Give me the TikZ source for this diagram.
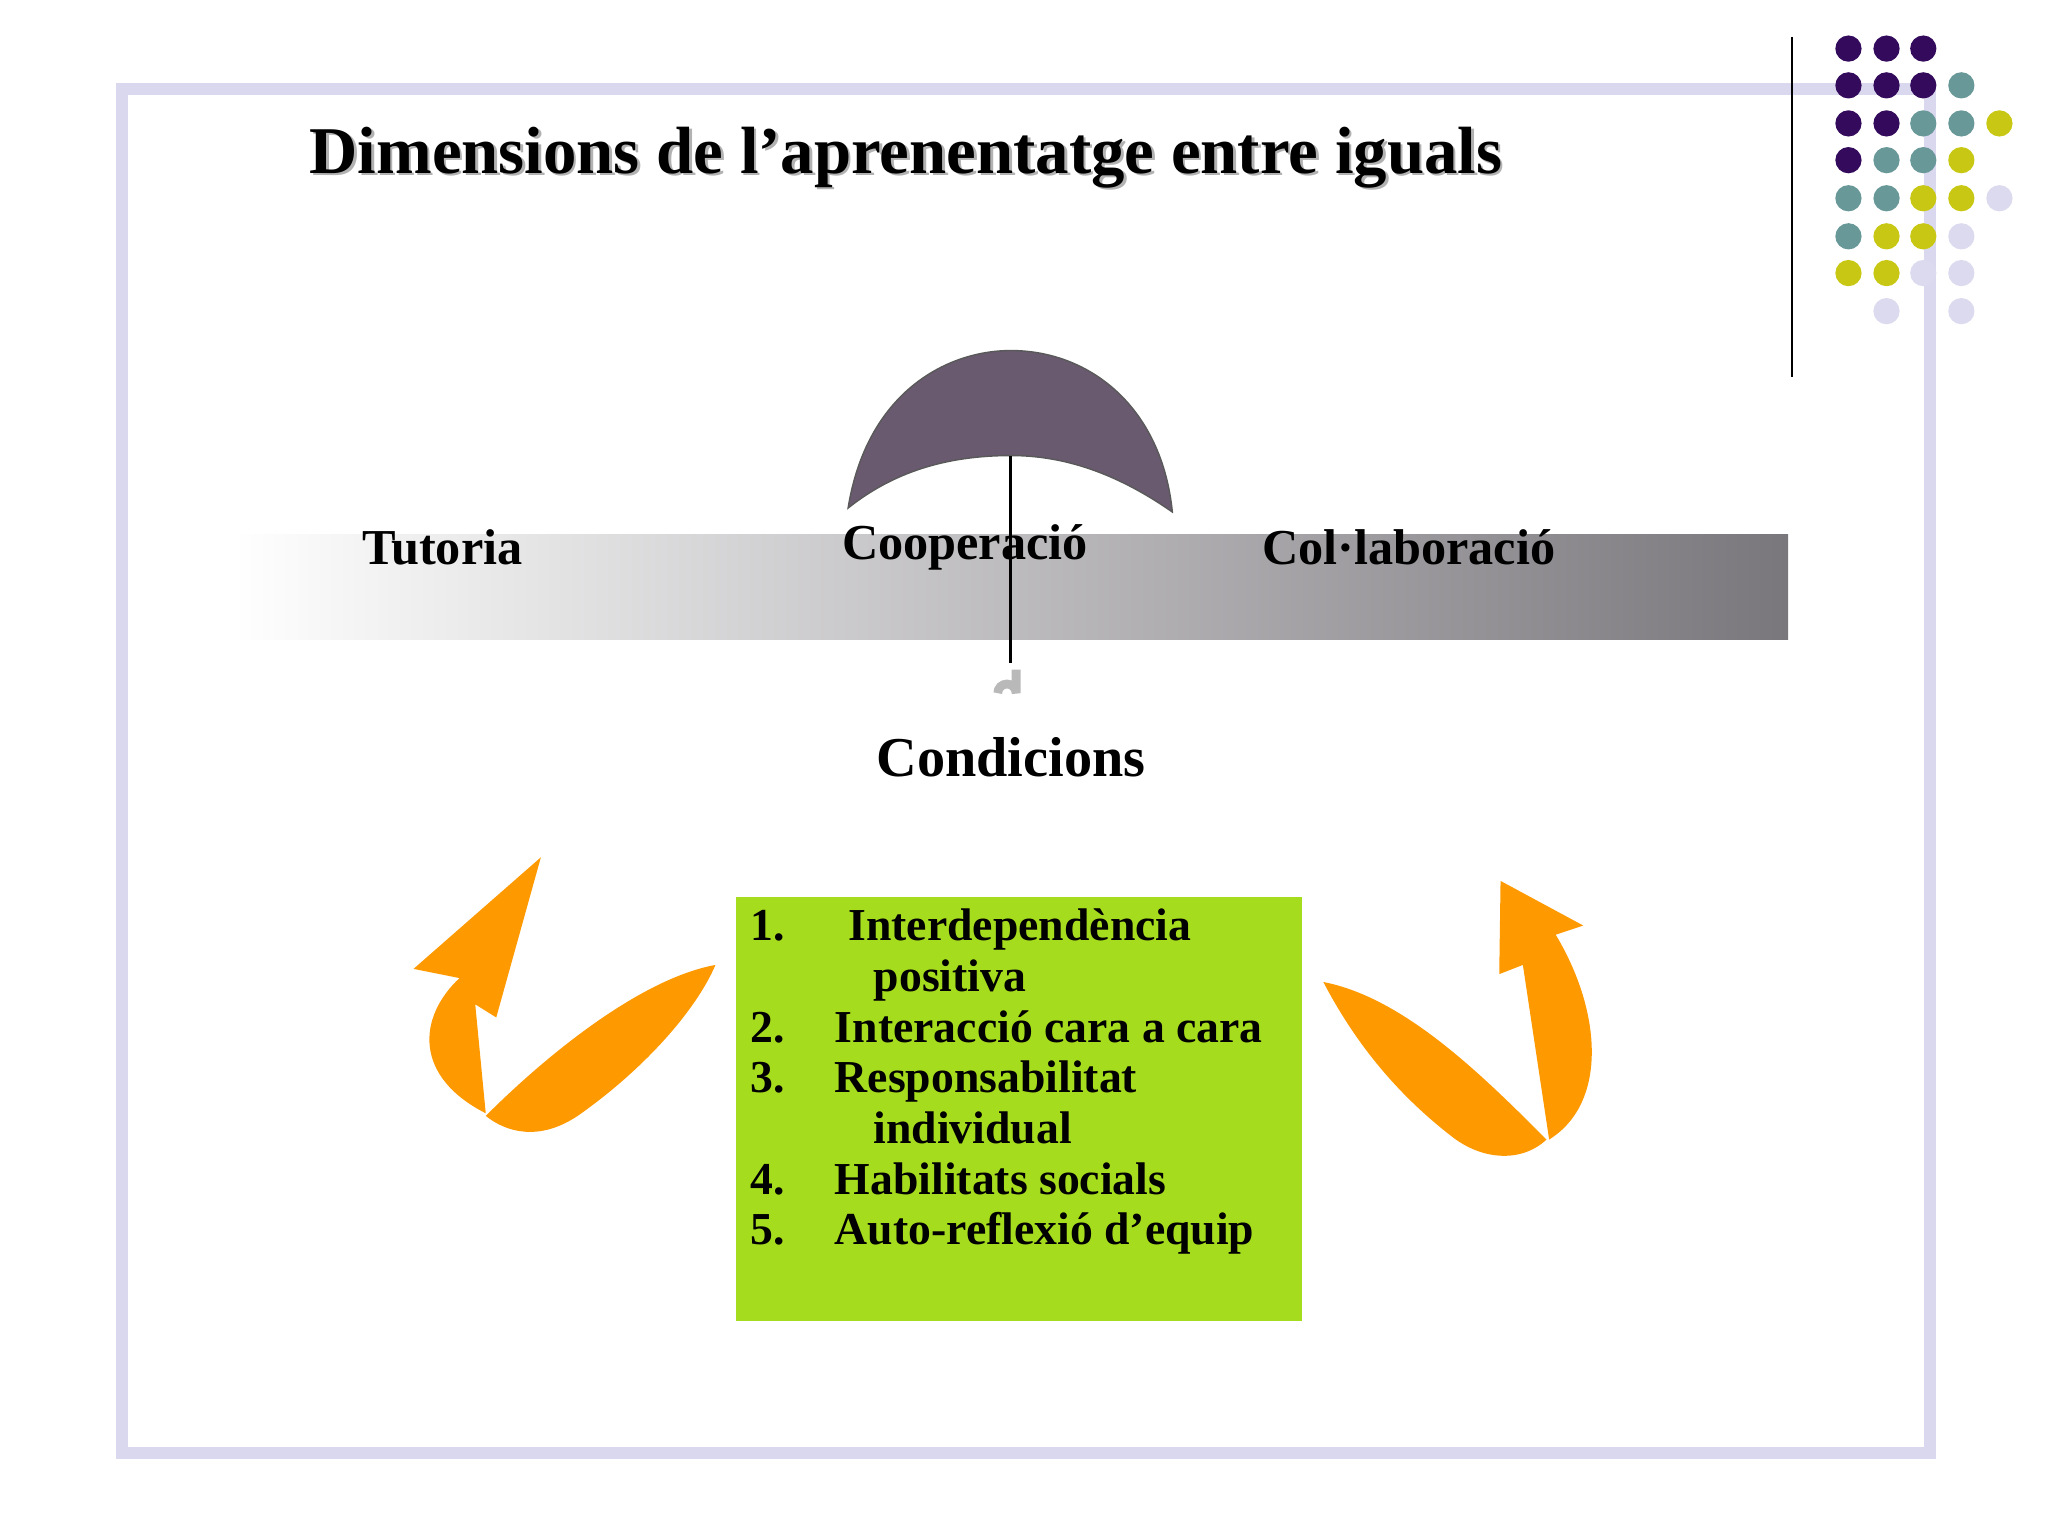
\documentclass[tikz,border=0pt]{standalone}
\usepackage{fontspec}
\setmainfont{Liberation Serif}
\begin{document}
\begin{tikzpicture}[x=0.013128cm,y=-0.013128cm]
\definecolor{frm}{RGB}{218,216,238}
\definecolor{pur}{RGB}{52,10,92}
\definecolor{tea}{RGB}{104,152,152}
\definecolor{yel}{RGB}{200,200,20}
\definecolor{lav}{RGB}{220,218,238}
\definecolor{umb}{RGB}{106,90,112}
\definecolor{grn}{RGB}{166,220,30}
\definecolor{org}{RGB}{255,153,0}
\definecolor{bar}{RGB}{122,119,124}
\tikzset{lbl/.style={font=\bfseries\fontsize{14.3}{17}\selectfont},
 dot/.style={radius=10}}
\useasboundingbox (0,0) rectangle (1560,1170);
\draw[frm,line width=3.5pt] (93,68) rectangle (1470,1107);
\draw[black,line width=0.8pt] (1365,28) -- (1365,287);
\foreach \x/\y/\c in {1408/37/pur,1437/37/pur,1465/37/pur,
 1408/65/pur,1437/65/pur,1465/65/pur,1494/65/tea,
 1408/94/pur,1437/94/pur,1465/94/tea,1494/94/tea,1523/94/yel,
 1408/122/pur,1437/122/tea,1465/122/tea,1494/122/yel,
 1408/151/tea,1437/151/tea,1465/151/yel,1494/151/yel,1523/151/lav,
 1408/180/tea,1437/180/yel,1465/180/yel,1494/180/lav,
 1408/208/yel,1437/208/yel,1465/208/lav,1494/208/lav,
 1437/237/lav,1494/237/lav}
 \fill[\c] (\x,\y) circle[dot];
\node (titleshadow) at (692,122) {\textcolor{gray!60}{\bfseries\fontsize{19}{23}\selectfont Dimensions de l’aprenentatge entre iguals}};
\node (title) at (690,120) {\bfseries\fontsize{19}{23}\selectfont Dimensions de l’aprenentatge entre iguals};
\shade[left color=white,right color=bar] (178,407) rectangle (1362,487);
\fill[umb,draw=gray!70!black,line width=0.4] (646,387) .. controls (660,300) and (720,267) .. (770,267) .. controls (830,267) and (885,310) .. (893,390) .. controls (850,360) and (810,347) .. (770,347) .. controls (720,347) and (680,360) .. (646,387) -- cycle;
\node[lbl] (tut) at (337,417) {Tutoria};
\node[lbl] (coop) at (735,417) {Cooperació};
\node[lbl] (col) at (1073,417) {Col·laboració};
\draw[black,line width=0.8pt] (770,347) -- (770,505);
\draw[gray!55,line width=2.5pt] (774,510) -- (774,528) arc[start angle=0,end angle=-180,radius=7];
\node[font=\bfseries\fontsize{16}{19}\selectfont] (cond) at (770,577) {Condicions};
\fill[grn] (561,683) rectangle (992,1006);
\node[anchor=north west,align=left,font=\bfseries\fontsize{13}{14.4}\selectfont,inner sep=0] (list) at (571,692) {%
1.\hspace{1.4em}Interdependència\\
\hspace{2.7em}positiva\\
2.\hspace{1.1em}Interacció cara a cara\\
3.\hspace{1.1em}Responsabilitat\\
\hspace{2.7em}individual\\
4.\hspace{1.1em}Habilitats socials\\
5.\hspace{1.1em}Auto-reflexió d’equip};
% left arrow
\fill[org] (545,735) .. controls (490,745) and (420,800) .. (370,850) .. controls (385,862) and (410,870) .. (440,850) .. controls (490,815) and (530,770) .. (545,735) -- cycle;
\fill[org] (370,848) -- (362,765) -- (378,775) -- (412,653) -- (315,738) -- (350,745) .. controls (318,775) and (315,820) .. (370,848) -- cycle;
% right arrow
\fill[org] (1008,748) .. controls (1070,760) and (1130,820) .. (1178,868) .. controls (1160,885) and (1130,885) .. (1105,865) .. controls (1060,830) and (1030,790) .. (1008,748) -- cycle;
\fill[org] (1180,868) -- (1160,735) -- (1142,742) -- (1143,671) -- (1206,705) -- (1185,712) .. controls (1220,770) and (1225,840) .. (1180,868) -- cycle;
\end{tikzpicture}
\end{document}
